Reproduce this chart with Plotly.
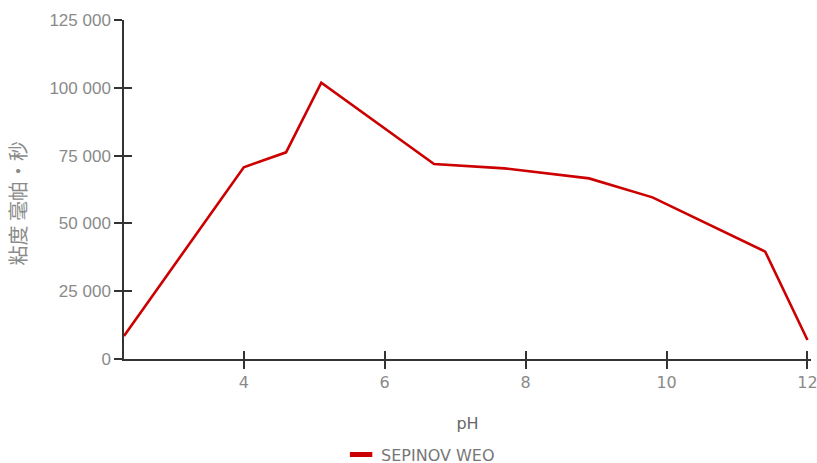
import plotly.graph_objects as go

# Data
ph = [2.3, 4.0, 4.6, 5.1, 6.7, 7.7, 8.9, 9.8, 11.4, 12.0]
viscosity = [8500, 70700, 76200, 101900, 71900, 70300, 66600, 59600, 39600, 7000]
series_name = "SEPINOV WEO"
x_title = "pH"
y_title = "粘度 毫帕・秒"
x_ticks = [4, 6, 8, 10, 12]
y_ticks = [0, 25000, 50000, 75000, 100000, 125000]

RED = "#cc0000"
AXIS = "#333333"
TICKGRAY = "#8a8a8a"
X_RANGE = [2.3, 12.05]
Y_RANGE = [0, 125000]

fig = go.Figure()

# main line
fig.add_trace(go.Scatter(
    x=ph, y=viscosity, mode="lines",
    line=dict(color=RED, width=2.6),
    showlegend=False, hoverinfo="x+y",
))
# invisible trace on overlay axes (for inward ticks crossing the axis lines)
fig.add_trace(go.Scatter(
    x=ph, y=viscosity, mode="lines", xaxis="x2", yaxis="y2",
    line=dict(color="rgba(0,0,0,0)", width=0),
    showlegend=False, hoverinfo="skip",
))
# legend entry
fig.add_trace(go.Scatter(
    x=[None], y=[None], mode="markers", name=series_name,
    marker=dict(symbol="line-ew", size=17, color=RED,
                line=dict(color=RED, width=5)),
    showlegend=True,
))

common_x = dict(range=X_RANGE, tickmode="array", tickvals=x_ticks,
                ticklen=8, tickwidth=1.5, tickcolor=AXIS,
                showgrid=False, zeroline=False, automargin=False)
common_y = dict(range=Y_RANGE, tickmode="array", tickvals=y_ticks,
                ticklen=8, tickwidth=1.5, tickcolor=AXIS,
                showgrid=False, zeroline=False, automargin=False)

fig.update_layout(
    width=817, height=463,
    margin=dict(l=124, r=6, t=20, b=104, autoexpand=False),
    paper_bgcolor="white", plot_bgcolor="white",
    separators=". ",
    font=dict(family="DejaVu Sans, Verdana, sans-serif", color=TICKGRAY, size=16),
    xaxis=dict(
        **common_x, ticks="outside", ticklabeloverflow="allow",
        showline=True, linecolor=AXIS, linewidth=1.5,
        tickfont=dict(family="DejaVu Sans, Verdana, sans-serif", size=16, color=TICKGRAY),
        title=dict(text=x_title, standoff=27,
                   font=dict(family="DejaVu Sans, Verdana, sans-serif", size=16, color="#666666")),
    ),
    yaxis=dict(
        **common_y, ticks="outside",
        showline=True, linecolor=AXIS, linewidth=1.5,
        tickformat=",d",
        tickfont=dict(family="Liberation Sans, Arial, sans-serif", size=17, color=TICKGRAY),
    ),
    xaxis2=dict(**common_x, ticks="inside", overlaying="x", showticklabels=False,
                showline=False),
    yaxis2=dict(**common_y, ticks="inside", overlaying="y", showticklabels=False,
                showline=False),
    legend=dict(
        orientation="h", x=0.316, xanchor="left",
        yref="container", y=0.018, yanchor="middle",
        font=dict(family="DejaVu Sans, Verdana, sans-serif", size=16, color="#777777"),
        bgcolor="rgba(0,0,0,0)",
    ),
    annotations=[dict(
        text=y_title, textangle=-90, xref="paper", yref="paper",
        x=-0.155, y=0.457, xanchor="center", yanchor="middle", showarrow=False,
        font=dict(family="Noto Sans CJK SC, sans-serif", size=20, color=TICKGRAY),
    )],
)

fig.write_html("out.html", config={"displayModeBar": False},
               post_script="document.body.style.margin='0';")
